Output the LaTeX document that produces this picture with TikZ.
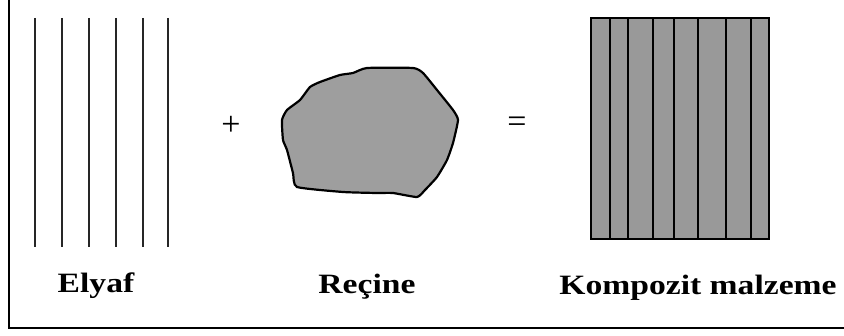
\documentclass[tikz,border=0pt]{standalone}
\usepackage{fontspec}
\setmainfont{Liberation Serif}
\usepackage{graphicx}
\usetikzlibrary{positioning}

\definecolor{resingray}{gray}{0.62}
\definecolor{compgray}{gray}{0.6}

\begin{document}
\begin{tikzpicture}[x=1pt,y=-1pt,
  fiber/.style={line width=2.2pt, draw=black!85},
  lbl/.style={font=\fontsize{28}{30}\selectfont\bfseries, anchor=base, inner sep=0pt},
  sign/.style={font=\fontsize{34}{36}\selectfont, inner sep=0pt}]
\useasboundingbox (0,0) rectangle (844,336);
% frame
\draw[line width=2.4pt] (9,0) -- (9,328) -- (844,328);
% fibres
\foreach \x in {35,62,89,116,143,168}
  \draw[fiber] (\x,18) -- (\x,247);
\node[lbl] (elyaf) at (96,293) {\scalebox{1.2}[1]{Elyaf}};
% plus
\node[sign] (plus) at (231,126) {+};
% resin lump
\draw[line width=2.2pt, fill=resingray] plot[smooth cycle, tension=0.3] coordinates {
  (367,68) (413,68) (423,73) (437,90) (453,110) (458,120) (453,143)
  (447,160) (437,177) (425,190) (417,197) (393,193) (377,193) (343,192)
  (297,187) (293,173) (287,150) (283,140) (282,120) (287,110) (300,100)
  (310,87) (320,82) (340,75) (353,73)};
\node[lbl] (recine) at (367,294) {\scalebox{1.2}[1]{Reçine}};
% equals
\node[sign] (equals) at (517,125) {=};
% composite
\node[draw, line width=1.8pt, fill=compgray, minimum width=178pt, minimum height=221pt,
  inner sep=0pt] (comp) at (680,128.5) {};
\foreach \x in {610,628,653,674,698,726,751}
  \draw[line width=1.8pt] (\x,18) -- (\x,239);
\node[lbl] (kompozit) at (698,295) {\scalebox{1.2}[1]{Kompozit malzeme}};
\end{tikzpicture}
\end{document}
